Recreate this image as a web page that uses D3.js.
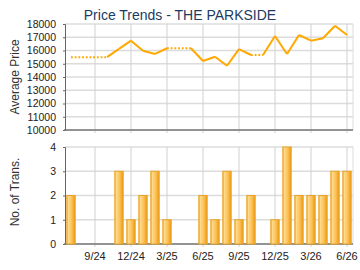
<!DOCTYPE html>
<html>
<head>
<meta charset="utf-8">
<script src="https://cdn.jsdelivr.net/npm/d3@7"></script>
<style>
  body { margin: 0; background: #fff; }
  text { font-family: "Liberation Sans", Arial, sans-serif; }
</style>
</head>
<body>
<div class="canvas"></div>
<script>
// months shown on the x axis (7/24 .. 6/26)
const months = ['7/24','8/24','9/24','10/24','11/24','12/24','1/25','2/25','3/25','4/25','5/25',
                '6/25','7/25','8/25','9/25','10/25','11/25','12/25','1/26','2/26','3/26','4/26','5/26','6/26'];
// average price per month, null where there were no transactions
const prices = [15500, null, null, null, 16120, 16740, 15980, 15740, 16170, null, null,
                15210, 15530, 14850, 16110, 15660, null, 17090, 15740, 17170, 16740, 16920, 17870, 17170];
// number of transactions per month
const counts = [2, 0, 0, 0, 3, 1, 2, 3, 1, 0, 0, 2, 1, 3, 1, 2, 0, 1, 4, 2, 2, 2, 3, 3];
const xTickLabels = ['9/24','12/24','3/25','6/25','9/25','12/25','3/26','6/26'];
const priceTicks = [10000, 11000, 12000, 13000, 14000, 15000, 16000, 17000, 18000];
const countTicks = [0, 1, 2, 3, 4];

const svg = d3.select('.canvas')
    .append('svg')
    .attr('width', 360)
    .attr('height', 270);

const defs = svg.append('defs');
const grad = defs.append('linearGradient').attr('id', 'barGrad')
    .attr('x1', '0%').attr('x2', '100%').attr('y1', '0%').attr('y2', '0%');
grad.append('stop').attr('offset', '0%').attr('stop-color', '#f2b445');
grad.append('stop').attr('offset', '20%').attr('stop-color', '#ffd98a');
grad.append('stop').attr('offset', '60%').attr('stop-color', '#fbc055');
grad.append('stop').attr('offset', '100%').attr('stop-color', '#e99a12');

const left = 65, right = 353;

const x = d3.scaleBand()
    .domain(months)
    .range([left, right])
    .paddingInner(0.22)
    .paddingOuter(0.11);
const cx = m => x(m) + x.bandwidth() / 2;

const yPrice = d3.scaleLinear().domain([10000, 18000]).range([130, 24]);
const yCount = d3.scaleLinear().domain([0, 4]).range([244, 147]);

// title
svg.append('text')
    .attr('x', 180).attr('y', 20)
    .attr('text-anchor', 'middle')
    .attr('font-size', 14)
    .attr('fill', '#1b3b63')
    .text('Price Trends - THE PARKSIDE');

// axis titles
svg.append('text')
    .attr('transform', 'translate(19,77) rotate(-90)')
    .attr('text-anchor', 'middle')
    .attr('font-size', 12)
    .attr('fill', '#333')
    .text('Average Price');
svg.append('text')
    .attr('transform', 'translate(19,192) rotate(-90)')
    .attr('text-anchor', 'middle')
    .attr('font-size', 12)
    .attr('fill', '#333')
    .text('No. of Trans.');

function drawPanel(yScale, ticks, fmt) {
    const g = svg.append('g');
    const y0 = yScale.range()[0], y1 = yScale.range()[1];
    // horizontal grid
    g.selectAll('.hg').data(ticks).enter().append('line')
        .attr('x1', left).attr('x2', right)
        .attr('y1', d => yScale(d)).attr('y2', d => yScale(d))
        .attr('stroke', '#dcdcdc').attr('stroke-width', 1.5);
    // vertical grid at tick months
    g.selectAll('.vg').data(xTickLabels).enter().append('line')
        .attr('x1', d => cx(d)).attr('x2', d => cx(d))
        .attr('y1', y1).attr('y2', y0 + 3)
        .attr('stroke', '#d0d0d0').attr('stroke-width', 1);
    g.append('line')
        .attr('x1', right).attr('x2', right).attr('y1', y1).attr('y2', y0)
        .attr('stroke', '#dcdcdc');
    // y axis
    const yAxis = d3.axisLeft(yScale).tickValues(ticks).tickSize(2).tickFormat(fmt);
    const ya = g.append('g').attr('transform', 'translate(' + left + ',0)').call(yAxis);
    ya.select('.domain').attr('stroke', '#666');
    ya.selectAll('text').attr('font-size', 10.5).attr('fill', '#222')
        .attr('font-family', '"Liberation Sans", Arial, sans-serif').attr('dx', -4);
    ya.selectAll('.tick line').attr('stroke', '#666');
    // bottom line
    g.append('line')
        .attr('x1', left - 1).attr('x2', right).attr('y1', y0).attr('y2', y0)
        .attr('stroke', '#777').attr('stroke-width', 1.5);
    return g;
}

drawPanel(yPrice, priceTicks, d3.format('d'));
const bottom = drawPanel(yCount, countTicks, d3.format('d'));

// bars
bottom.selectAll('rect.bar').data(months.map((m, i) => ({ m, v: counts[i] })).filter(d => d.v > 0))
    .enter().append('rect')
    .attr('class', 'bar')
    .attr('x', d => x(d.m) + 0.5)
    .attr('width', x.bandwidth() - 1)
    .attr('y', d => yCount(d.v))
    .attr('height', d => yCount(0) - yCount(d.v))
    .attr('fill', 'url(#barGrad)')
    .attr('stroke', '#e9a423')
    .attr('stroke-width', 1);

// x axis labels
const xAxis = d3.axisBottom(x).tickValues(xTickLabels).tickSize(0).tickPadding(8);
const xa = svg.append('g').attr('transform', 'translate(0,244)').call(xAxis);
xa.select('.domain').remove();
xa.selectAll('text').attr('font-size', 11).attr('fill', '#222')
    .attr('font-family', '"Liberation Sans", Arial, sans-serif');

// price line: solid between real points, dotted where value is carried forward
const solid = [], dotted = [];
let lastIdx = -1;
prices.forEach((p, i) => {
    if (p == null) return;
    if (lastIdx >= 0) {
        if (i - lastIdx === 1) {
            solid.push([[lastIdx, prices[lastIdx]], [i, p]]);
        } else {
            dotted.push([[lastIdx, prices[lastIdx]], [i - 1, prices[lastIdx]]]);
            solid.push([[i - 1, prices[lastIdx]], [i, p]]);
        }
    }
    lastIdx = i;
});

const line = d3.line().x(d => cx(months[d[0]])).y(d => yPrice(d[1]));
svg.append('g').selectAll('path').data(solid).enter().append('path')
    .attr('d', line)
    .attr('fill', 'none')
    .attr('stroke', '#ffa800')
    .attr('stroke-width', 2)
    .attr('stroke-linejoin', 'round');
svg.append('g').selectAll('path').data(dotted).enter().append('path')
    .attr('d', line)
    .attr('fill', 'none')
    .attr('stroke', '#ffa800')
    .attr('stroke-width', 2)
    .attr('stroke-dasharray', '1.8 1.9');
</script>
</body>
</html>
